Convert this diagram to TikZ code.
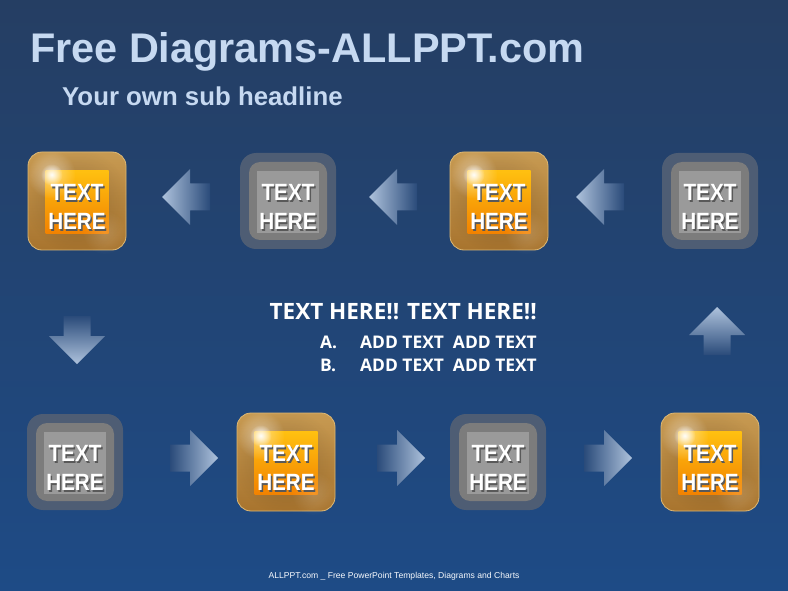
\documentclass[tikz,border=0pt]{standalone}
\usepackage{fontspec}
\setmainfont{Liberation Sans}
\newfontfamily\bodyfont{Open Sans}
\usetikzlibrary{fadings,positioning}

\definecolor{bgtop}{HTML}{253E63}
\definecolor{bgbot}{HTML}{1E4B86}
\definecolor{titleblue}{HTML}{C6D9F1}
\definecolor{rimtop}{HTML}{C79A52}
\definecolor{rimbot}{HTML}{A8742E}
\definecolor{rimline}{HTML}{DDB874}
\definecolor{facetop}{HTML}{FFC010}
\definecolor{facebot}{HTML}{F28200}
\definecolor{halo}{HTML}{4E5D74}
\definecolor{graymid}{HTML}{7C7C7C}
\definecolor{grayface}{HTML}{9A9A9A}
\definecolor{arrowtip}{HTML}{AEC2DC}
\definecolor{arrowtail}{HTML}{2A4B7A}

\tikzfading[name=glow, inner color=transparent!0, outer color=transparent!100]

\tikzset{
  orangerim/.style={rounded corners=14pt, minimum size=98pt, inner sep=0pt,
    top color=rimtop, bottom color=rimbot, draw=rimline, line width=0.8pt},
  orangeface/.style={minimum size=63pt, inner sep=0pt,
    top color=facetop, bottom color=facebot},
  grayhalo/.style={rounded corners=16pt, minimum size=96pt, inner sep=0pt, fill=halo},
  graymid/.style={rounded corners=11pt, minimum size=78pt, inner sep=0pt, fill=graymid},
  grayface/.style={minimum size=62pt, inner sep=0pt, fill=grayface},
  tiletext/.style={text=white, align=center, inner sep=0pt,
    font=\bfseries\fontsize{23.5}{29}\selectfont},
  tileshadow/.style={tiletext, text=black!65},
  headtext/.style={text=white, inner sep=0pt, font=\bodyfont\bfseries\fontsize{22.5}{26}\selectfont},
  itemtext/.style={text=white, inner sep=0pt, font=\bodyfont\bfseries\fontsize{17.4}{20}\selectfont}
}

\newcommand\tilelabel[1]{%
  \node[tileshadow] at ([shift={(1.5,7.5)}]#1) {\scalebox{0.88}[1]{TEXT}\\\scalebox{0.88}[1]{HERE}};
  \node[tiletext] at ([shift={(0,6)}]#1) {\scalebox{0.88}[1]{TEXT}\\\scalebox{0.88}[1]{HERE}};
}
\newcommand\orangetile[2]{%
  \node[orangerim] (#1) at (#2) {};
  \fill[black, opacity=0.18, path fading=glow] (#1) circle (52pt);
  \node[orangeface] at ([shift={(0,1)}]#1) {};
  \fill[white, opacity=0.45, path fading=glow] ([shift={(24,23)}]#1.north west) circle (24pt);
  \fill[white, opacity=0.95, path fading=glow] ([shift={(24,23)}]#1.north west) circle (11pt);
  \fill[white, opacity=0.15, path fading=glow] ([shift={(-22,-18)}]#1.south east) circle (22pt);
  \tilelabel{#1}
}
\newcommand\graytile[2]{%
  \node[grayhalo] (#1) at (#2) {};
  \node[graymid] at (#1) {};
  \node[grayface] at ([shift={(0,1)}]#1) {};
  \tilelabel{#1}
}
% block arrows, drawn round a named centre
\newcommand\leftblock[2]{%
  \coordinate (#1) at (#2);
  \shade[left color=arrowtip, right color=arrowtail]
    ([shift={(-24,0)}]#1) -- ++(28,-28) -- ++(0,14.5) -- ++(20,0) -- ++(0,27)
    -- ++(-20,0) -- ++(0,14.5) -- cycle;
}
\newcommand\rightblock[2]{%
  \coordinate (#1) at (#2);
  \shade[left color=arrowtail, right color=arrowtip]
    ([shift={(24,0)}]#1) -- ++(-28,-28) -- ++(0,14.5) -- ++(-20,0) -- ++(0,27)
    -- ++(20,0) -- ++(0,14.5) -- cycle;
}
\newcommand\upblock[2]{%
  \coordinate (#1) at (#2);
  \shade[top color=arrowtip, bottom color=arrowtail]
    ([shift={(0,-24)}]#1) -- ++(-28,28) -- ++(14.5,0) -- ++(0,20) -- ++(27,0)
    -- ++(0,-20) -- ++(14.5,0) -- cycle;
}
\newcommand\downblock[2]{%
  \coordinate (#1) at (#2);
  \shade[top color=arrowtail, bottom color=arrowtip]
    ([shift={(0,24)}]#1) -- ++(-28,-28) -- ++(14.5,0) -- ++(0,-20) -- ++(27,0)
    -- ++(0,20) -- ++(14.5,0) -- cycle;
}

\begin{document}
\begin{tikzpicture}[x=1pt, y=-1pt]
\useasboundingbox (0,0) rectangle (788,591);
\shade[top color=bgtop, bottom color=bgbot] (0,0) rectangle (788,591);

% headline
\node[anchor=base west, inner sep=0pt, text=titleblue, font=\bfseries\fontsize{41.4}{48}\selectfont]
  (title) at (30,63) {Free Diagrams-ALLPPT.com};
\node[anchor=base west, inner sep=0pt, text=titleblue, font=\bfseries\fontsize{25.8}{30}\selectfont]
  (subtitle) at (62,106) {Your own sub headline};

% top row, right to left
\orangetile{t1}{77,201}
\graytile{t2}{288,201}
\orangetile{t3}{499,201}
\graytile{t4}{710,201}

% bottom row, left to right
\graytile{b1}{75,462}
\orangetile{b2}{286,462}
\graytile{b3}{498,462}
\orangetile{b4}{710,462}

% arrows
\leftblock{a1}{186,197}
\leftblock{a2}{393,197}
\leftblock{a3}{600,197}
\downblock{a4}{77,340}
\rightblock{a5}{194,458}
\rightblock{a6}{401,458}
\rightblock{a7}{608,458}
\upblock{a8}{717,331}

% centre text
\node[headtext, anchor=base east] (head) at (537,319) {TEXT HERE!! TEXT HERE!!};
\node[itemtext, anchor=base east] (itemA) at (537,348) {ADD TEXT\ \ ADD TEXT};
\node[itemtext, anchor=base west] (markA) at (320,348) {A.};
\node[itemtext, anchor=base east] (itemB) at (537,371) {ADD TEXT\ \ ADD TEXT};
\node[itemtext, anchor=base west] (markB) at (320,371) {B.};

% footer
\node[text=white!85!titleblue, inner sep=0pt, font=\fontsize{8.6}{10}\selectfont]
  (footer) at (394,576) {ALLPPT.com \_ Free PowerPoint Templates, Diagrams and Charts};
\end{tikzpicture}
\end{document}
